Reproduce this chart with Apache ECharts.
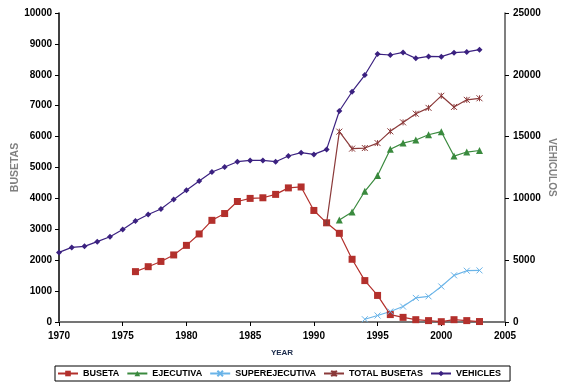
<!DOCTYPE html>
<html>
<head>
<meta charset="utf-8">
<script src="https://cdn.jsdelivr.net/npm/echarts@6/dist/echarts.min.js"></script>
<style>
html,body{margin:0;padding:0;background:#fff;}
#chart{width:561px;height:388px;}
</style>
</head>
<body>
<div id="chart"></div>
<script>
// datos
var years = [1970,1971,1972,1973,1974,1975,1976,1977,1978,1979,1980,1981,1982,1983,1984,1985,1986,1987,1988,1989,1990,1991,1992,1993,1994,1995,1996,1997,1998,1999,2000,2001,2002,2003];
var buseta = [null,null,null,null,null,null,1630,1790,1960,2170,2480,2850,3290,3510,3900,4000,4020,4130,4340,4370,3610,3210,2870,2030,1340,860,240,150,75,45,10,75,45,15];
var ejecutiva = [null,null,null,null,null,null,null,null,null,null,null,null,null,null,null,null,null,null,null,null,null,null,3300,3560,4230,4740,5590,5790,5890,6060,6160,5370,5500,5550];
var superejecutiva = [null,null,null,null,null,null,null,null,null,null,null,null,null,null,null,null,null,null,null,null,null,null,null,null,90,210,340,500,780,830,1150,1510,1660,1670];
var totalBusetas = [null,null,null,null,null,null,null,null,null,null,null,null,null,null,null,null,null,null,null,null,null,3210,6160,5610,5630,5790,6170,6460,6740,6930,7320,6960,7190,7240];
var vehicles = [5630,6035,6120,6500,6900,7490,8170,8700,9140,9920,10660,11400,12140,12540,12970,13075,13075,12970,13430,13700,13560,13965,17070,18630,19980,21680,21600,21810,21330,21490,21470,21790,21850,22030];

var leftTicks = [0,10000,1000];
var rightTicks = [0,25000,5000];

function pares(arr){
	var out = [];
	for(var i=0;i<years.length;i++){
		if(arr[i] != null) out.push([years[i], arr[i]]);
	}
	return out;
}
function sinComa(v){ return String(v); }

var familia = 'Liberation Sans, Arial';
var cruz = 'path://M0,0L10,10M10,0L0,10';
var asterisco = 'path://M0,0L10,10M10,0L0,10M5,0L5,10';

var chart = echarts.init(document.getElementById('chart'));
var option = {
	animation:false,
	grid:{left:59,right:56,top:13,bottom:66,outerBoundsMode:'none'},
	legend:{
		left:55, top:366, padding:[3,9,3,2],
		borderColor:'#000', borderWidth:1, itemGap:7,
		itemWidth:20, itemHeight:7,
		textStyle:{fontFamily:familia, fontWeight:'bold', fontSize:9, color:'#000'},
		data:['BUSETA','EJECUTIVA','SUPEREJECUTIVA','TOTAL BUSETAS','VEHICLES']
	},
	xAxis:[{
		type:'value', min:1970, max:2005, interval:5,
		name:'YEAR', nameLocation:'middle', nameGap:27,
		nameTextStyle:{fontFamily:familia, fontWeight:'bold', fontSize:8, color:'#1a2a4a'},
		axisLine:{lineStyle:{color:'#000', width:1.5}},
		axisTick:{length:4, lineStyle:{color:'#000'}},
		axisLabel:{formatter:sinComa, margin:9, fontFamily:familia, fontWeight:'bold', fontSize:10, color:'#000'},
		splitLine:{show:false}
	},{
		type:'value', min:1970, max:2005, position:'top',
		axisLine:{show:true, lineStyle:{color:'#888', width:1.5}},
		axisTick:{show:false}, axisLabel:{show:false}, splitLine:{show:false}
	}],
	yAxis:[{
		type:'value', min:leftTicks[0], max:leftTicks[1], interval:leftTicks[2],
		name:'BUSETAS', nameLocation:'middle', nameGap:38, nameRotate:90, nameMoveOverlap:false,
		nameTextStyle:{fontFamily:familia, fontWeight:'bold', fontSize:10.5, color:'#808080'},
		axisLine:{show:true, lineStyle:{color:'#000', width:1.5}},
		axisTick:{show:true, length:4, lineStyle:{color:'#000'}},
		axisLabel:{formatter:sinComa, margin:7, fontFamily:familia, fontWeight:'bold', fontSize:10, color:'#000'},
		splitLine:{show:false}
	},{
		type:'value', min:rightTicks[0], max:rightTicks[1], interval:rightTicks[2], position:'right',
		name:'VEHICULOS', nameLocation:'middle', nameGap:42, nameRotate:-90, nameMoveOverlap:false,
		nameTextStyle:{fontFamily:familia, fontWeight:'bold', fontSize:10, color:'#808080'},
		axisLine:{show:true, lineStyle:{color:'#555', width:1.5}},
		axisTick:{show:true, length:4, lineStyle:{color:'#000'}},
		axisLabel:{formatter:sinComa, margin:8, fontFamily:familia, fontWeight:'bold', fontSize:10, color:'#000'},
		splitLine:{show:false}
	}],
	series:[
		{name:'BUSETA', type:'line', yAxisIndex:0, data:pares(buseta), symbol:'rect', symbolSize:7,
			itemStyle:{color:'#b3302c'}, lineStyle:{color:'#b3302c', width:1.2}},
		{name:'EJECUTIVA', type:'line', yAxisIndex:0, data:pares(ejecutiva), symbol:'triangle', symbolSize:7,
			itemStyle:{color:'#3a8a3e'}, lineStyle:{color:'#3a8a3e', width:1.2}},
		{name:'SUPEREJECUTIVA', type:'line', yAxisIndex:0, data:pares(superejecutiva), symbol:cruz, symbolSize:6,
			itemStyle:{color:'#6ab4e8', borderColor:'#6ab4e8', borderWidth:1}, lineStyle:{color:'#6ab4e8', width:1.2}},
		{name:'TOTAL BUSETAS', type:'line', yAxisIndex:0, data:pares(totalBusetas), symbol:asterisco, symbolSize:6,
			itemStyle:{color:'#8b3a3a', borderColor:'#8b3a3a', borderWidth:1}, lineStyle:{color:'#8b3a3a', width:1.2}},
		{name:'VEHICLES', type:'line', yAxisIndex:1, data:pares(vehicles), symbol:'diamond', symbolSize:6,
			itemStyle:{color:'#3b2180'}, lineStyle:{color:'#3b2180', width:1.2}}
	]
};
chart.setOption(option);
</script>
</body>
</html>
